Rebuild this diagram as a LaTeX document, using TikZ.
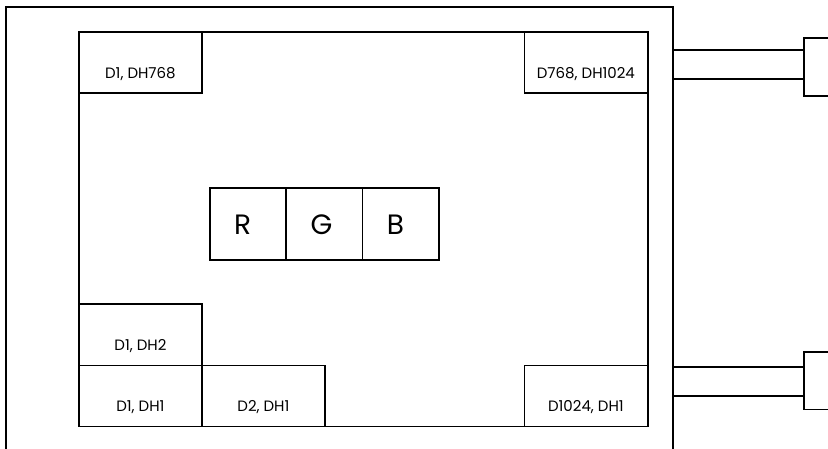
\documentclass[tikz,border=0pt]{standalone}
\usepackage{fontspec}
\setmainfont{Poppins}
\usepackage{tikz}
\usetikzlibrary{positioning}

\begin{document}
\begin{tikzpicture}[
        x=1pt, y=-1pt,
        line width=1.8pt,
        screen/.style={draw, rectangle, minimum width=569pt, minimum height=394.5pt, inner sep=0pt, anchor=north west},
        cell/.style={draw, rectangle, minimum width=123pt, minimum height=61pt, inner sep=0pt, anchor=north west},
        celltext/.style={font=\fontsize{15}{17}\selectfont, anchor=base},
        colour/.style={draw, rectangle, minimum width=76.3pt, minimum height=72pt, inner sep=0pt, anchor=north west},
        colourtext/.style={font=\fontsize{28}{32}\selectfont, anchor=base west},
        port/.style={draw, rectangle, minimum width=40pt, minimum height=57.5pt, inner sep=0pt, anchor=north west}
        ]
        \useasboundingbox (0,0) rectangle (828,449);

        % Outer frame
        \draw (6,449) |- (673,7) -- (673,449);

        % Screen
        \node[screen] (S) at (78,31) {};

        % Corner cells
        \foreach \n/\x/\y/\t in {TL/78/31/{D1, DH768}, TR/523.5/31/{D768, DH1024},
                                 L2/78/303.5/{D1, DH2}, L1/78/364.5/{D1, DH1},
                                 B2/201/364.5/{D2, DH1}, BR/523.5/364.5/{D1024, DH1}}
        {
            \node[cell] (\n) at (\x,\y) {};
            \node[celltext] (\n t) at ([yshift=15.5pt]\n.south) {\t};
        }

        % Colour cells
        \foreach \c [count=\i from 0] in {R,G,B}
        {
            \node[colour] (\c) at (209+\i*76.3,187.3) {};
            \node[colourtext] (\c t) at ([xshift=21pt, yshift=-10pt]\c.west) {\c};
        }

        % Ports
        \node[port] (P1) at (803.3,37.3) {};
        \node[port] (P2) at (803.3,351) {};

        % Connections
        \coordinate (P1a) at (673,50);
        \coordinate (P1b) at (673,79);
        \coordinate (P2a) at (673,367);
        \coordinate (P2b) at (673,396.3);
        \foreach \p in {P1a,P1b}
            \draw (\p) -- (\p -| P1.west);
        \foreach \p in {P2a,P2b}
            \draw (\p) -- (\p -| P2.west);

    \end{tikzpicture}
\end{document}
